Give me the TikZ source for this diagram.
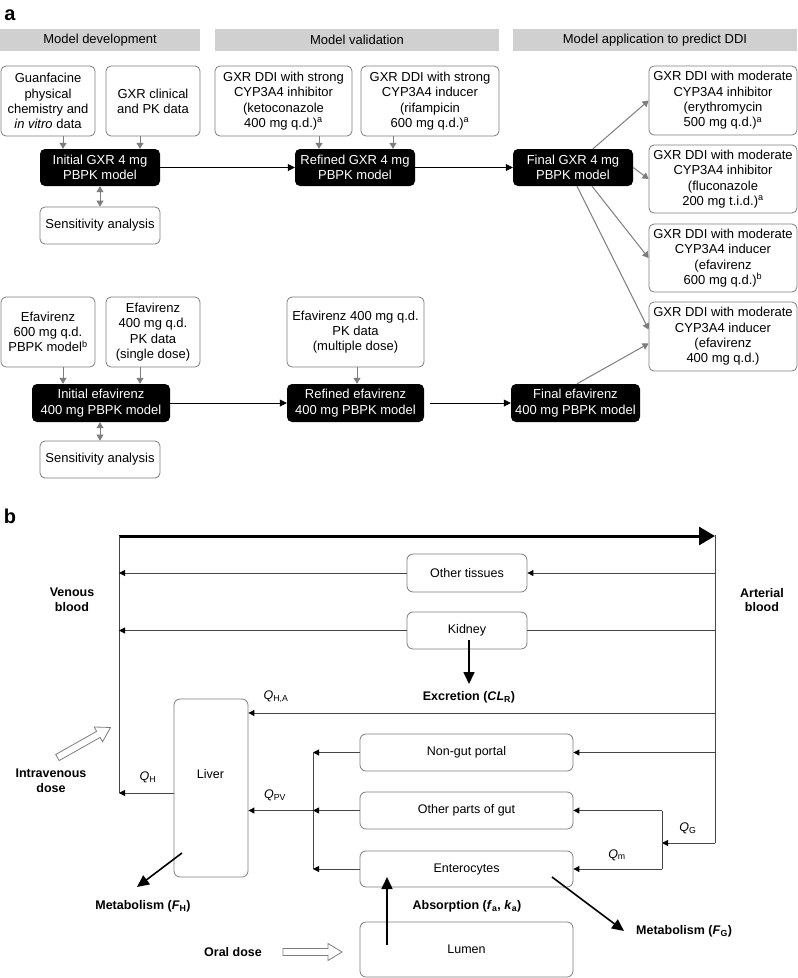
\documentclass[tikz,border=0pt]{standalone}
\usepackage{fontspec}
\setmainfont{Liberation Sans}
\usetikzlibrary{arrows.meta,calc}

\definecolor{hdrgray}{RGB}{208,208,208}
\definecolor{bordergray}{RGB}{125,125,125}
\definecolor{arrgray}{RGB}{125,125,125}
\definecolor{linegray}{RGB}{70,70,70}

\begin{document}
\begin{tikzpicture}[x=1pt,y=-1pt,
  tx/.style={font=\fontsize{13}{15.3}\selectfont, align=center, inner sep=0pt},
  hdr/.style={tx, fill=hdrgray, minimum height=22pt},
  wbox/.style={tx, draw=bordergray, line width=0.8pt, rounded corners=5pt},
  bbox/.style={tx, fill=black, text=white, rounded corners=5pt},
  garr/.style={draw=arrgray, line width=1pt, -{Triangle[length=6pt,width=7pt]}},
  garrd/.style={draw=arrgray, line width=1pt, {Triangle[length=6pt,width=7pt]}-{Triangle[length=6pt,width=7pt]}},
  barr/.style={draw=black, line width=0.8pt, -{Triangle[length=7pt,width=7pt]}},
  bt/.style={font=\fontsize{12.5}{14.5}\selectfont, align=center, inner sep=0pt},
  btb/.style={bt, font=\fontsize{12.5}{14.5}\selectfont\bfseries},
  pbox/.style={bt, draw=bordergray, line width=0.8pt, rounded corners=6pt},
  tline/.style={draw=linegray, line width=0.9pt},
  tarr/.style={tline, -{Triangle[length=6pt,width=6pt,color=black]}},
  thk/.style={draw=black, line width=1.6pt, -{Triangle[length=12pt,width=11pt]}},
  hollow/.style={draw=bordergray, line width=0.8pt, fill=white, line join=miter}
]
\useasboundingbox (0,0) rectangle (798,978);

% ---------------- part a ----------------
\node[font=\fontsize{20}{20}\selectfont\bfseries, anchor=base, inner sep=0pt] (la) at (10,20) {a};

\node[hdr, minimum width=200pt] (h1) at (100,40) {Model development};
\node[hdr, minimum width=284pt] (h2) at (357,40) {Model validation};
\node[hdr, minimum width=284pt] (h3) at (655,40) {Model application to predict DDI};

\node[wbox, minimum width=94pt, minimum height=70pt] (g1) at (48,101)
  {Guanfacine\\physical\\chemistry and\\\textit{in vitro} data};
\node[wbox, minimum width=94pt, minimum height=70pt] (g2) at (153,101)
  {GXR clinical\\and PK data};
\node[wbox, minimum width=137pt, minimum height=70pt] (g3) at (283.5,101)
  {GXR DDI with strong\\CYP3A4 inhibitor\\(ketoconazole\\400 mg q.d.)\textsuperscript{a}};
\node[wbox, minimum width=138pt, minimum height=70pt] (g4) at (430,101)
  {GXR DDI with strong\\CYP3A4 inducer\\(rifampicin\\600 mg q.d.)\textsuperscript{a}};

\node[wbox, minimum width=148pt, minimum height=69pt] (r1) at (723,100.5)
  {GXR DDI with moderate\\CYP3A4 inhibitor\\(erythromycin\\500 mg q.d.)\textsuperscript{a}};
\node[wbox, minimum width=148pt, minimum height=68pt] (r2) at (723,179)
  {GXR DDI with moderate\\CYP3A4 inhibitor\\(fluconazole\\200 mg t.i.d.)\textsuperscript{a}};
\node[wbox, minimum width=148pt, minimum height=68pt] (r3) at (723,258)
  {GXR DDI with moderate\\CYP3A4 inducer\\(efavirenz\\600 mg q.d.)\textsuperscript{b}};
\node[wbox, minimum width=148pt, minimum height=69pt] (r4) at (723,336.5)
  {GXR DDI with moderate\\CYP3A4 inducer\\(efavirenz\\400 mg q.d.)};

\node[bbox, minimum width=120pt, minimum height=37pt] (b1) at (100,167.5) {Initial GXR 4 mg\\PBPK model};
\node[bbox, minimum width=120pt, minimum height=37pt] (b2) at (355,167.5) {Refined GXR 4 mg\\PBPK model};
\node[bbox, minimum width=120pt, minimum height=37pt] (b3) at (573,167.5) {Final GXR 4 mg\\PBPK model};
\node[wbox, minimum width=120pt, minimum height=37pt] (s1) at (100,225.5) {Sensitivity analysis};

\node[wbox, minimum width=94pt, minimum height=70pt] (e1) at (48,332)
  {Efavirenz\\600 mg q.d.\\PBPK model\textsuperscript{b}};
\node[wbox, minimum width=94pt, minimum height=70pt] (e2) at (153,332)
  {Efavirenz\\400 mg q.d.\\PK data\\(single dose)};
\node[wbox, minimum width=137pt, minimum height=70pt] (e3) at (355.5,332)
  {Efavirenz 400 mg q.d.\\PK data\\(multiple dose)};

\node[bbox, minimum width=138pt, minimum height=38pt] (b4) at (101,403) {Initial efavirenz\\400 mg PBPK model};
\node[bbox, minimum width=137pt, minimum height=38pt] (b5) at (355.5,403) {Refined efavirenz\\400 mg PBPK model};
\node[bbox, minimum width=129pt, minimum height=38pt] (b6) at (575.5,403) {Final efavirenz\\400 mg PBPK model};
\node[wbox, minimum width=120pt, minimum height=37pt] (s2) at (100,459.5) {Sensitivity analysis};

% arrows part a
\draw[garr] (63,0 |- g1.south) -- (63,0 |- b1.north);
\draw[garr] (140,0 |- g2.south) -- (140,0 |- b1.north);
\draw[garr] (319,0 |- g3.south) -- (319,0 |- b2.north);
\draw[garr] (393,0 |- g4.south) -- (393,0 |- b2.north);
\draw[garrd] (b1.south) -- (s1.north);
\draw[barr] (b1.east) -- (b2.west);
\draw[barr] (b2.east) -- (b3.west);
\draw[garr] (b3.east) -- (r2.west);
\draw[garr] (593,0 |- b3.north) -- (r1.west);
\draw[garr] (592,0 |- b3.south) -- (r3.west);
\draw[garr] (577,0 |- b3.south) -- ([yshift=7pt]r4.west);

\draw[garr] (63,0 |- e1.south) -- (63,0 |- b4.north);
\draw[garr] (140,0 |- e2.south) -- (140,0 |- b4.north);
\draw[garr] (357,0 |- e3.south) -- (357,0 |- b5.north);
\draw[garrd] (100,0 |- b4.south) -- (100,0 |- s2.north);
\draw[barr] (b4.east) -- (b5.west);
\draw[barr, shorten <=6pt] (b5.east) -- (b6.west);
\draw[garr] (577,0 |- b6.north) -- ([yshift=-7pt]r4.west);

% ---------------- part b ----------------
\node[font=\fontsize{20}{20}\selectfont\bfseries, anchor=base, inner sep=0pt] (lb) at (10,523) {b};

\coordinate (vtop) at (119,536);
\coordinate (atop) at (715,536);
\coordinate (vbot) at (119,793);
\coordinate (abot) at (715,843);

\draw[draw=black, line width=3pt, -{Triangle[length=16pt,width=18pt]}] (vtop) -- (atop);
\draw[tline] (vtop) -- (vbot);
\draw[tline] ([yshift=1.5pt]atop) -- (abot);

\node[btb] (vb) at (72,600) {Venous\\blood};
\node[btb] (ab) at (762,600) {Arterial\\blood};

\node[pbox, minimum width=120pt, minimum height=38pt] (ot) at (467,573) {Other tissues};
\node[pbox, minimum width=120pt, minimum height=37pt] (kid) at (467,630.5) {Kidney};

\draw[tarr] (atop |- ot.east) -- (ot.east);
\draw[tarr] (ot.west) -- (vtop |- ot.west);
\draw[tline] (atop |- kid.east) -- (kid.east);
\draw[tarr] (kid.west) -- (vtop |- kid.west);

\node[btb] (exc) at (469,697) {Excretion (\textit{CL}\textsubscript{R})};
\coordinate (excS) at (469,640);
\coordinate (excT) at (469,684);
\draw[thk] (excS) -- (excT);

\node[pbox, minimum width=74pt, minimum height=178pt] (liv) at (211,788) {};
\node[bt] (livt) at (210.5,774) {Liver};

\coordinate (qha) at (715,713);
\draw[tarr] (qha) -- (qha -| liv.east);
\node[bt] (lqha) at (276,697) {\textit{Q}\textsubscript{H,A}};

\node[pbox, minimum width=213pt, minimum height=37pt] (ngp) at (466.5,752.5) {Non-gut portal};
\node[pbox, minimum width=213pt, minimum height=37pt] (opg) at (466.5,810.5) {Other parts of gut};
\node[pbox, minimum width=213pt, minimum height=36pt] (ent) at (466.5,869) {Enterocytes};
\node[pbox, minimum width=213pt, minimum height=55pt] (lum) at (466.5,949.5) {Lumen};

% portal vein collection
\coordinate (pvt) at (313,752.5);
\coordinate (pvb) at (313,869);
\draw[tline] (pvt) -- (pvb);
\draw[tarr] (ngp.west) -- (pvt);
\draw[tarr] (opg.west) -- (313,0 |- opg.west);
\draw[tarr] (ent.west) -- (pvb);
\draw[tarr] (313,0 |- opg.west) -- (liv.east |- opg.west);
\node[bt] (lqpv) at (275,795) {\textit{Q}\textsubscript{PV}};

% hepatic outflow
\draw[tarr] (liv.west |- vbot) -- (vbot);
\node[bt] (lqh) at (148,777) {\textit{Q}\textsubscript{H}};

% arterial to gut
\draw[tarr] (atop |- ngp.east) -- (ngp.east);
\coordinate (qgj) at (662,843);
\coordinate (qgt) at (662,810.5);
\coordinate (qgb) at (662,869);
\draw[tarr] (abot) -- (qgj);
\draw[tline] (qgt) -- (qgb);
\draw[tarr] (qgt) -- (opg.east);
\draw[tarr] (qgb) -- (ent.east);
\node[bt] (lqg) at (688,828) {\textit{Q}\textsubscript{G}};
\node[bt] (lqm) at (617,855) {\textit{Q}\textsubscript{m}};

% metabolism and absorption
\coordinate (fhS) at (182,853);
\coordinate (fhT) at (137,887);
\draw[thk] (fhS) -- (fhT);
\node[btb] (mfh) at (143,906) {Metabolism (\textit{F}\textsubscript{H})};

\coordinate (fgS) at (552,877);
\coordinate (fgT) at (624,931);
\draw[thk] (fgS) -- (fgT);
\node[btb, anchor=west] (mfg) at (636,931) {Metabolism (\textit{F}\textsubscript{G})};

\node[btb] (abs) at (467,906) {Absorption (\textit{f}\textsubscript{a}, \textit{k}\textsubscript{a})};
\coordinate (abS) at (387,945);
\coordinate (abT) at (387,877);
\draw[thk] (abS) -- (abT);

% doses
\node[btb] (od) at (233,952) {Oral dose};
\begin{scope}[shift={(312.5,952)}]
  \draw[hollow] (-29.5,-3.5) -- (15.5,-3.5) -- (15.5,-8.5) -- (29.5,0) -- (15.5,8.5) -- (15.5,3.5) -- (-29.5,3.5) -- cycle;
\end{scope}
\node[btb] (ivd) at (51,781) {Intravenous\\dose};
\begin{scope}[shift={(84,742.5)}, rotate=29.5]
  \draw[hollow] (-30.5,-3.5) -- (16.5,-3.5) -- (16.5,-8.5) -- (30.5,0) -- (16.5,8.5) -- (16.5,3.5) -- (-30.5,3.5) -- cycle;
\end{scope}
\end{tikzpicture}
\end{document}
